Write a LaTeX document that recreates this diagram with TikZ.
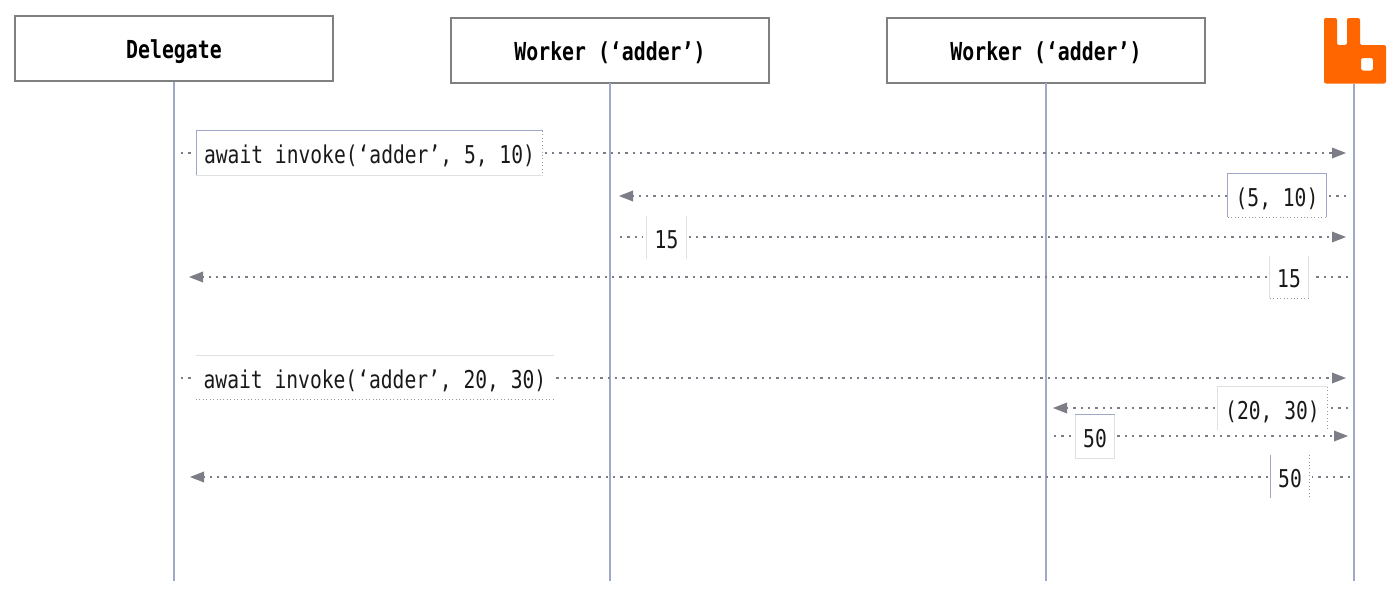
\documentclass[tikz,border=0pt]{standalone}
\usepackage{fontspec}
\usepackage{tikz}
\usetikzlibrary{arrows.meta}
\newfontfamily\seqfont[FakeStretch=0.8]{DejaVu Sans Mono}
\definecolor{lifeblue}{RGB}{160,168,200}
\definecolor{msggray}{RGB}{125,125,135}
\definecolor{rimlight}{RGB}{224,224,226}
\definecolor{rabbit}{RGB}{255,102,0}
\tikzset{
  actorbox/.style={draw=gray,line width=1.2pt,fill=white,minimum width=238.5pt,minimum height=48.5pt,inner sep=0pt,text height=16pt,text depth=1.4pt,font=\seqfont\bfseries\fontsize{18.6}{20}\selectfont},
  msglabel/.style={fill=white,inner sep=0pt,text height=17pt,text depth=1.2pt,font=\seqfont\fontsize{18.4}{20}\selectfont,text=black!90},
  lifeline/.style={draw=lifeblue,line width=1.5pt},
  msgline/.style={draw=msggray,line width=1pt,dash pattern=on 1.7pt off 3.8pt},
  msgarrow/.style={msgline,-{Triangle[length=10.5pt,width=8pt,fill=msggray,sep=0pt]}},
  rimblue/.style={draw=lifeblue,line width=0.6pt},
  rimgray/.style={draw=rimlight,line width=0.8pt},
  rimdot/.style={draw=black!40,line width=0.6pt,dotted}
}
\begin{document}
\begin{tikzpicture}[x=0.75pt,y=0.75pt,yscale=-1]
\useasboundingbox (0,0) rectangle (1400,596);

% Actors
\node [actorbox] (delegate) at (174,48.5) {Delegate};
\node [actorbox] (workera) at (610,50.5) {Worker (‘adder’)};
\node [actorbox] (workerb) at (1046,50.5) {Worker (‘adder’)};

% Logo
\fill [rabbit,rounded corners=1.5pt,even odd rule] (1324,18) -- (1337,18) -- (1337,45) -- (1347,45) -- (1347,18) -- (1360,18) -- (1360,45) -- (1386,45) -- (1386,83.5) -- (1324,83.5) -- cycle (1361,58) rectangle (1373,70.5);
\coordinate (logo) at (1354,83.5);

% Lifelines
\coordinate (delegateend) at (173.5,581);
\coordinate (workeraend) at (610,581);
\coordinate (workerbend) at (1046,581);
\coordinate (logoend) at (1354,581);
\draw [lifeline] (delegate.south -| delegateend) -- (delegateend);
\draw [lifeline] (workera) ++(0,32.5) -- (workeraend);
\draw [lifeline] (workerb) ++(0,32.5) -- (workerbend);
\draw [lifeline] (logo) -- (logoend);

% Text Node
\node [msglabel,minimum width=259.5pt,minimum height=33pt] (calla) at (369.5,153) {await invoke(‘adder’, 5, 10)};
\node [msglabel,minimum width=73.5pt,minimum height=32.5pt] (taska) at (1277,195.5) {(5, 10)};
\node [msglabel,minimum width=29pt,minimum height=32.5pt] (resulta) at (666.5,237.5) {15};
\node [msglabel,minimum width=28.5pt,minimum height=31.5pt] (replya) at (1289,277) {15};
\node [msglabel,minimum width=268.5pt,minimum height=32.5pt] (callb) at (375,377.5) {await invoke(‘adder’, 20, 30)};
\node [msglabel,minimum width=82pt,minimum height=32.5pt] (taskb) at (1272.5,408.5) {(20, 30)};
\node [msglabel,minimum width=29pt,minimum height=32.5pt] (resultb) at (1095,436.5) {50};
\node [msglabel,minimum width=28.5pt,minimum height=32.5pt] (replyb) at (1290,476.5) {50};

% Message ends
\coordinate (callastart) at (181,153);
\coordinate (callaend) at (1346,153);
\coordinate (taskastart) at (1346,196);
\coordinate (taskaend) at (619,196);
\coordinate (resultastart) at (620,237);
\coordinate (resultaend) at (1346,237);
\coordinate (replyastart) at (1348,277);
\coordinate (replyaend) at (189,277);
\coordinate (callbstart) at (181,378);
\coordinate (callbend) at (1346,378);
\coordinate (taskbstart) at (1348,408);
\coordinate (taskbend) at (1053,408);
\coordinate (resultbstart) at (1054,436);
\coordinate (resultbend) at (1348,436);
\coordinate (replybstart) at (1350,477);
\coordinate (replybend) at (190,477);

% Messages
\draw [msgline,shorten >=3pt] (callastart) -- (calla.west |- callastart);
\draw [msgarrow,shorten <=1.5pt] (calla.east |- callaend) -- (callaend);
\draw [msgline,shorten >=2pt] (taskastart) -- (taska.east |- taskastart);
\draw [msgarrow] (taska.west |- taskaend) -- (taskaend);
\draw [msgline,shorten >=3pt] (resultastart) -- (resulta.west |- resultastart);
\draw [msgarrow,shorten <=2pt] (resulta.east |- resultaend) -- (resultaend);
\draw [msgline,shorten >=3pt] (replyastart) -- (replya.east |- replyastart);
\draw [msgarrow,shorten <=2pt] (replya.west |- replyaend) -- (replyaend);
\draw [msgline,shorten >=3pt] (callbstart) -- (callb.west |- callbstart);
\draw [msgarrow,shorten <=1.5pt] (callb.east |- callbend) -- (callbend);
\draw [msgline,shorten >=2pt] (taskbstart) -- (taskb.east |- taskbstart);
\draw [msgarrow,shorten <=2pt] (taskb.west |- taskbend) -- (taskbend);
\draw [msgline,shorten >=3pt] (resultbstart) -- (resultb.west |- resultbstart);
\draw [msgarrow,shorten <=2pt] (resultb.east |- resultbend) -- (resultbend);
\draw [msgline,shorten >=2pt] (replybstart) -- (replyb.east |- replybstart);
\draw [msgarrow,shorten <=2pt] (replyb.west |- replybend) -- (replybend);

% Label rims
\draw [rimblue] (calla.south west) -- (calla.north west) -- (calla.north east);
\draw [rimgray] (calla.south west) -- (calla.south east);
\draw [rimdot] (calla.north east) -- (calla.south east);
\draw [rimblue] (taska.south west) -- (taska.north west) -- (taska.north east) -- (taska.south east);
\draw [rimdot] (taska.south west) -- (taska.south east);
\draw [rimgray] (resulta.north west) -- (resulta.south west) (resulta.north east) -- (resulta.south east);
\draw [rimgray] (replya.north west) -- (replya.south west) (replya.north east) -- (replya.south east);
\draw [rimdot] (replya.south west) -- (replya.south east);
\draw [rimgray] (callb.north west) -- (callb.north east);
\draw [rimdot] (callb.south west) -- (callb.south east);
\draw [rimgray] (taskb.south west) -- (taskb.north west) -- (taskb.north east);
\draw [rimdot] (taskb.north east) -- (taskb.south east);
\draw [rimgray] (resultb.north west) -- (resultb.south west) -- (resultb.south east) -- (resultb.north east);
\draw [rimblue] (resultb.north west) -- (resultb.north east);
\draw [rimblue] (replyb.north west) -- (replyb.south west);
\draw [rimdot] (replyb.north east) -- (replyb.south east);

\end{tikzpicture}
\end{document}
